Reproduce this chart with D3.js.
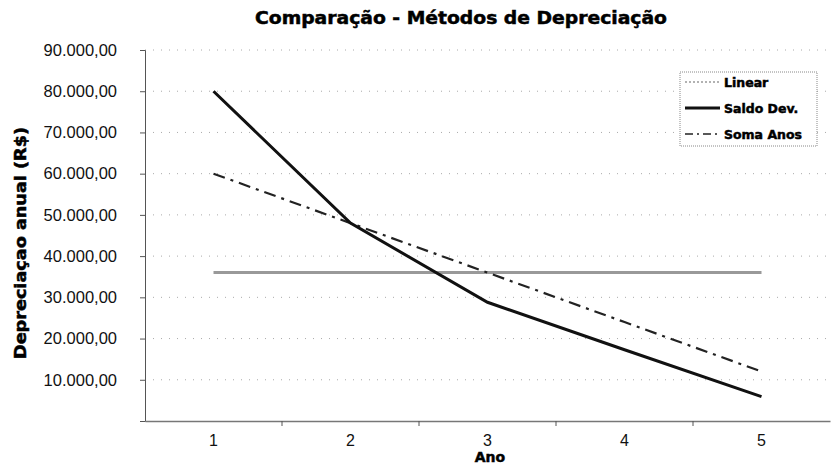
<!DOCTYPE html>
<html>
<head>
<meta charset="utf-8">
<script src="https://cdn.jsdelivr.net/npm/d3@7"></script>
<style>
body { margin: 0; background: #fff; }
svg { display: block; font-family: "Liberation Sans", Arial, sans-serif; }
.heavy { font-family: "DejaVu Sans", "Liberation Sans", sans-serif; font-weight: bold; fill: #000; stroke: #000; stroke-width: 0.5; }
</style>
</head>
<body>
<svg id="chart"></svg>
<script>
// dados
var anos = [1, 2, 3, 4, 5];
var linear = [36000, 36000, 36000, 36000, 36000];
var saldoDev = [80000, 48000, 28800, 17280, 5920];
var somaAnos = [60000, 48000, 36000, 24000, 12000];
var yTicks = [10000, 20000, 30000, 40000, 50000, 60000, 70000, 80000, 90000];

var width = 832, height = 466;
var margin = {top: 50, right: 2, bottom: 45, left: 145};

var svg = d3.select('#chart').attr('width', width).attr('height', height);

var x = d3.scaleBand().domain(anos).range([margin.left, width - margin.right]);
var y = d3.scaleLinear().domain([0, 90000]).range([height - margin.bottom, margin.top]);

var fmt = d3.formatLocale({decimal: ',', thousands: '.', grouping: [3], currency: ['R$', '']}).format(',.2f');

// grade
svg.append('g')
    .selectAll('line')
    .data(yTicks)
    .enter().append('line')
    .attr('x1', margin.left)
    .attr('x2', width - margin.right)
    .attr('y1', function (d) { return y(d) })
    .attr('y2', function (d) { return y(d) })
    .attr('stroke', '#aaa')
    .attr('stroke-width', 1)
    .attr('stroke-dasharray', '1,7')

// eixo y
var yAxis = svg.append('g')
    .attr('transform', 'translate(' + margin.left + ',0)')
    .call(d3.axisLeft(y).tickValues(yTicks).tickFormat(fmt).tickSize(5).tickPadding(23))
yAxis.select('.domain').attr('stroke', '#555')
yAxis.selectAll('.tick line').attr('stroke', '#555')
yAxis.selectAll('text').attr('font-size', 16.5).attr('fill', '#111')

// eixo x
var xAxis = svg.append('g')
    .attr('transform', 'translate(0,' + (height - margin.bottom) + ')')
    .call(d3.axisBottom(x).tickSize(0).tickPadding(14))
xAxis.select('.domain').attr('stroke', '#777').attr('stroke-width', 1.5)
xAxis.selectAll('text').attr('font-size', 16).attr('fill', '#111')
// marcas entre categorias
svg.append('g')
    .selectAll('line')
    .data(anos.slice(1))
    .enter().append('line')
    .attr('x1', function (d) { return x(d) })
    .attr('x2', function (d) { return x(d) })
    .attr('y1', height - margin.bottom)
    .attr('y2', height - margin.bottom + 5)
    .attr('stroke', '#555')

function px(i) { return x(anos[i]) + x.bandwidth() / 2 }

var linha = d3.line()
    .x(function (d, i) { return px(i) })
    .y(function (d) { return y(d) })

svg.append('path').datum(linear)
    .attr('d', linha).attr('fill', 'none')
    .attr('stroke', '#999').attr('stroke-width', 3)
svg.append('path').datum(somaAnos)
    .attr('d', linha).attr('fill', 'none')
    .attr('stroke', '#222').attr('stroke-width', 2.2).attr('stroke-dasharray', '12,6,3,6')
svg.append('path').datum(saldoDev)
    .attr('d', linha).attr('fill', 'none')
    .attr('stroke', '#111').attr('stroke-width', 3)

// titulos
svg.append('text')
    .attr('class', 'heavy')
    .attr('x', 461).attr('y', 24)
    .attr('text-anchor', 'middle')
    .attr('font-size', 17)
    .attr('textLength', 412).attr('lengthAdjust', 'spacingAndGlyphs')
    .text('Comparação - Métodos de Depreciação')
svg.append('text')
    .attr('class', 'heavy')
    .attr('x', 490).attr('y', 462)
    .attr('text-anchor', 'middle')
    .attr('font-size', 14)
    .text('Ano')
svg.append('text')
    .attr('class', 'heavy')
    .attr('transform', 'translate(26,' + 243 + ') rotate(-90)')
    .attr('text-anchor', 'middle')
    .attr('font-size', 15)
    .attr('textLength', 232).attr('lengthAdjust', 'spacingAndGlyphs')
    .text('Depreciaçao anual (R$)')

// legenda
var legenda = [
    {nome: 'Linear', cor: '#999', w: 1.5, dash: '2,2'},
    {nome: 'Saldo Dev.', cor: '#111', w: 3, dash: null},
    {nome: 'Soma Anos', cor: '#222', w: 1.5, dash: '8,4,2,4'}
]
var lg = svg.append('g')
lg.append('rect')
    .attr('x', 680).attr('y', 72).attr('width', 137).attr('height', 74)
    .attr('fill', '#fff').attr('stroke', '#888').attr('stroke-dasharray', '1,1')
var item = lg.selectAll('g.item')
    .data(legenda)
    .enter().append('g')
    .attr('class', 'item')
    .attr('transform', function (d, i) { return 'translate(0,' + (82 + i * 26) + ')' })
item.append('line')
    .attr('x1', 685).attr('x2', 720).attr('y1', 0).attr('y2', 0)
    .attr('stroke', function (d) { return d.cor })
    .attr('stroke-width', function (d) { return d.w })
    .attr('stroke-dasharray', function (d) { return d.dash })
item.append('text')
    .attr('class', 'heavy')
    .attr('x', 724).attr('y', 5)
    .attr('font-size', 12.5)
    .text(function (d) { return d.nome })
</script>
</body>
</html>
